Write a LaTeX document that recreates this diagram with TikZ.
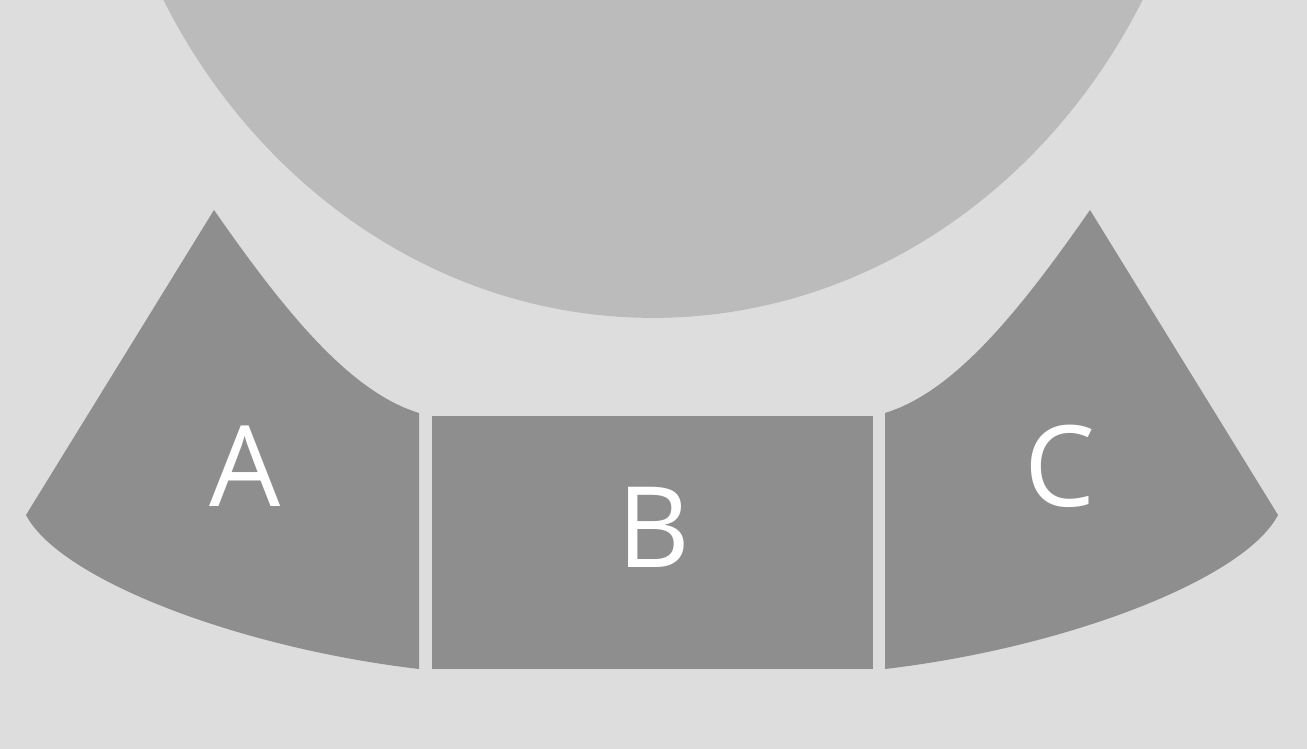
\documentclass[tikz,border=0pt]{standalone}
\usepackage{fontspec}
\setmainfont{Open Sans}
\definecolor{backgray}{RGB}{221,221,221}
\definecolor{headgray}{RGB}{187,187,187}
\definecolor{zonegray}{RGB}{142,142,142}
\tikzset{
    zone/.style={
        fill=zonegray
    },
    zonelabel/.style={
        text=white,
        anchor=base,
        inner sep=0pt,
        font=\fontsize{64}{78}\selectfont
    }
}

\begin{document}
\begin{tikzpicture}[x=0.02cm, y=-0.02cm]
% Background
\fill[backgray] (0,0) rectangle (1307,749);
\useasboundingbox (0,0) rectangle (1307,749);

% Head
\begin{scope}
\clip (0,0) rectangle (1307,749);
\fill[headgray] (653,-300) ellipse [x radius=11.2cm, y radius=12.36cm];
\end{scope}

% Zone A
\fill[zone] (214,210) .. controls (285,312) and (350,392) .. (419,413)
    -- (419,669) .. controls (240,648) and (60,580) .. (26,515) -- cycle;

% Zone B
\fill[zone] (432,416) rectangle (873,669);

% Zone C
\fill[zone] (1090,210) .. controls (1019,312) and (954,392) .. (885,413)
    -- (885,669) .. controls (1064,648) and (1244,580) .. (1278,515) -- cycle;

% Labels
\node[zonelabel] (label-a) at (245,506) {A};
\node[zonelabel] (label-b) at (654,567) {B};
\node[zonelabel] (label-c) at (1060,506) {C};
\end{tikzpicture}
\end{document}
